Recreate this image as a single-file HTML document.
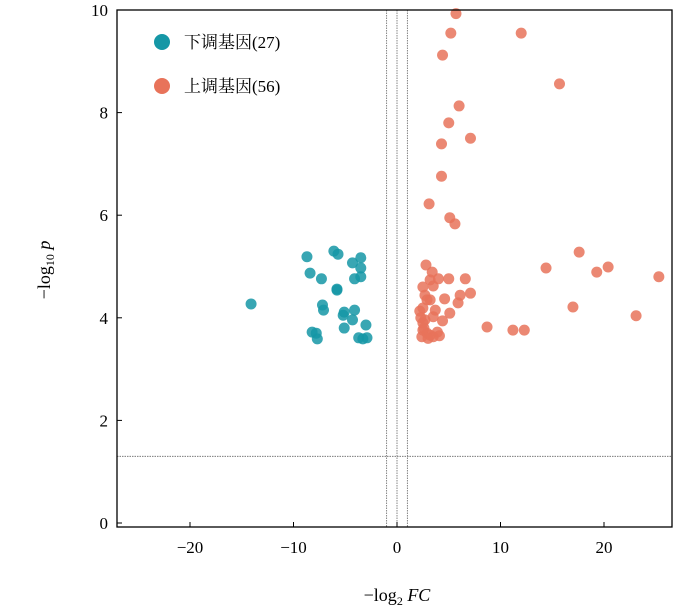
<!DOCTYPE html>
<html><head><meta charset="utf-8"><style>
body{margin:0;background:#fff;}
svg{display:block;font-family:"Liberation Serif","Noto Serif CJK SC",serif;}
</style></head><body>
<svg id="chart" width="700" height="615"></svg>
<script>
const downX=[-8.7,-6.1,-5.7,-3.5,-4.3,-3.5,-8.4,-7.3,-3.5,-4.1,-5.8,-5.8,-14.1,-7.2,-7.1,-5.1,-4.1,-5.2,-4.3,-3.0,-5.1,-8.2,-7.8,-7.7,-3.7,-2.9,-3.3];
const downY=[5.19,5.30,5.24,5.17,5.07,4.97,4.87,4.76,4.80,4.76,4.56,4.54,4.27,4.25,4.15,4.11,4.15,4.05,3.96,3.86,3.80,3.72,3.70,3.59,3.61,3.61,3.59];
const upX=[5.7,5.2,12.0,4.4,15.7,6.0,5.0,7.1,4.3,4.3,3.1,5.1,5.6,2.8,3.4,3.2,4.0,5.0,6.6,2.5,3.5,2.7,6.1,7.1,4.6,2.9,5.9,2.5,2.2,5.1,3.5,2.7,4.4,8.7,11.2,2.5,2.9,3.9,3.2,2.4,3.5,14.4,17.6,19.3,20.4,25.3,17.0,23.1,12.3,2.3,2.6,3.0,4.1,2.5,3.7,3.2];
const upY=[9.93,9.55,9.55,9.12,8.56,8.13,7.80,7.50,7.39,6.76,6.22,5.95,5.83,5.03,4.89,4.74,4.76,4.76,4.76,4.60,4.62,4.44,4.44,4.48,4.37,4.35,4.29,4.19,4.13,4.09,4.02,3.96,3.94,3.82,3.76,3.76,3.70,3.72,3.66,3.63,3.63,4.97,5.28,4.89,4.99,4.80,4.21,4.04,3.76,4.0,3.8,3.6,3.65,3.9,4.15,4.35];
const xTicks=[-20,-10,0,10,20];
const yTicks=[0,2,4,6,8,10];
const NS="http://www.w3.org/2000/svg";
const svg=document.getElementById('chart');
const L=117,R=672,T=10,B=527;
const sx=v=>397+v*10.35;
const sy=v=>523-v*51.3;
function el(t,a,p){const e=document.createElementNS(NS,t);for(const k in a)e.setAttribute(k,a[k]);(p||svg).appendChild(e);return e;}
[-1,0,1].forEach(v=>{const l=el('line',{x1:sx(v),x2:sx(v),y1:T,y2:B,stroke:'#666','stroke-width':0.8,'stroke-dasharray':'1.5,1'});

});
const hl=el('line',{x1:L,x2:R,y1:sy(1.3),y2:sy(1.3),stroke:'#666','stroke-width':0.8,'stroke-dasharray':'1.5,1'});


const gd=el('g',{});


downX.forEach((x,i)=>{const c=el('circle',{cx:sx(x),cy:sy(downY[i]),r:5.5,fill:'#1597a6','fill-opacity':0.85},gd);

});
const gu=el('g',{});


upX.forEach((x,i)=>{const c=el('circle',{cx:sx(x),cy:sy(upY[i]),r:5.5,fill:'#e8735a','fill-opacity':0.85},gu);

});
const fr=el('rect',{x:L,y:T,width:R-L,height:B-T,fill:'none',stroke:'#000','stroke-width':1.3});


xTicks.forEach(v=>{el('line',{x1:sx(v),x2:sx(v),y1:B,y2:B-5,stroke:'#000'});
const t=el('text',{x:sx(v),y:553,'text-anchor':'middle','font-size':17});t.textContent=(v<0?'\u2212'+(-v):v);

});
yTicks.forEach(v=>{el('line',{x1:L,x2:L+5,y1:sy(v),y2:sy(v),stroke:'#000'});
const t=el('text',{x:108,y:sy(v)+6,'text-anchor':'end','font-size':17});t.textContent=v;

});
</script>
<svg style="position:absolute;left:0;top:0" width="700" height="615" font-family='"Liberation Serif","Noto Serif CJK SC",serif'>
<g>
<circle cx="162" cy="42" r="8" fill="#1597a6"/>
<text x="184" y="48" font-size="17">下调基因(27)</text>
<circle cx="162" cy="86" r="8" fill="#e8735a"/>
<text x="184" y="92" font-size="17">上调基因(56)</text>
</g>
<text x="397" y="601" text-anchor="middle" font-size="18">−log<tspan font-size="12" dy="4">2</tspan><tspan dy="-4" font-style="italic"> FC</tspan></text>
<text transform="translate(50,270) rotate(-90)" text-anchor="middle" font-size="18">−log<tspan font-size="12" dy="4">10</tspan><tspan dy="-4" font-style="italic"> p</tspan></text>
</svg>
</body></html>
